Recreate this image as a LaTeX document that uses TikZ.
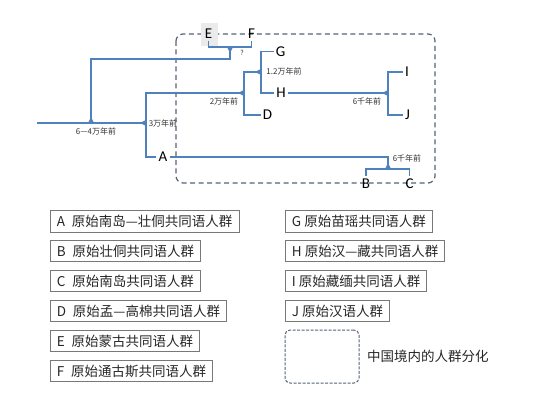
\documentclass[tikz,border=0pt]{standalone}
\usepackage{fontspec}
\setmainfont{Noto Sans CJK SC}
\newfontfamily\letterfont{Carlito}
\usetikzlibrary{positioning}
\definecolor{branch}{RGB}{79,129,189}
\definecolor{zonecol}{RGB}{84,98,122}
\definecolor{boxline}{RGB}{120,120,120}
\tikzset{
  tree/.style={draw=branch, line width=1.4pt},
  leaf/.style={inner sep=2pt, font=\letterfont\fontsize{15}{15}\selectfont},
  age/.style={inner sep=0pt, text=black!80, font=\fontsize{8}{9}\selectfont},
  legend/.style={draw=boxline, line width=0.9pt, anchor=west, inner xsep=6.5pt, inner ysep=4.5pt,
    text height=11.5pt, text depth=1pt, text=black!85, font=\fontsize{13.5}{15}\selectfont},
  zone/.style={draw=zonecol, line width=1.2pt, dash pattern=on 5pt off 3.5pt, rounded corners=7pt},
  keybox/.style={draw=zonecol, line width=1pt, dash pattern=on 3pt off 1.5pt, rounded corners=5pt,
    minimum width=74pt, minimum height=53pt},
  tri left/.pic={\fill[branch] (0,-3) -- (0,3) -- (-6,0) -- cycle;},
  tri up/.pic={\fill[branch] (-3,0) -- (3,0) -- (0,-6) -- cycle;},
  tri down/.pic={\fill[branch] (-3,0) -- (3,0) -- (0,6) -- cycle;}
}
\begin{document}
\begin{tikzpicture}[x=1pt,y=-1pt]
\useasboundingbox (0,0) rectangle (550,412);
\draw[zone] (176,34) rectangle (435,183);
\fill[black!8] (201,23) rectangle (218,46);
\coordinate (r0) at (37,123);
\coordinate (s64) at (91,123);
\coordinate (s3) at (146,123);
\coordinate (k1) at (230,59);
\coordinate (ef) at (230,47);
\coordinate (j2) at (244,93);
\coordinate (j12) at (261,72);
\coordinate (jIJ) at (388,93);
\coordinate (jBC) at (388,169);
\node[leaf] (E) at (208.5,33.5) {E};
\node[leaf] (F) at (251.5,33.5) {F};
\node[leaf] (G) at (280.5,51.5) {G};
\node[leaf] (H) at (281,93) {H};
\node[leaf] (D) at (267.5,115) {D};
\node[leaf] (I) at (407,72) {I};
\node[leaf] (J) at (407.5,115) {J};
\node[leaf] (A) at (163,157) {A};
\node[leaf] (B) at (366,183.5) {B};
\node[leaf] (C) at (409.5,183.5) {C};
\draw[tree] (r0) -- (s3);
\draw[tree] (s64) |- (k1) -- (ef);
\draw[tree] (E) |- (ef) -| (F);
\draw[tree] (A) -| (s3) |- (j2);
\draw[tree] (D) -| (j2) |- (j12);
\draw[tree] (H) -| (j12) |- (G);
\draw[tree] (H) -- (jIJ);
\draw[tree] (J) -| (jIJ) |- (I);
\draw[tree] (A) -| (jBC);
\draw[tree] (B) |- (jBC) -| (C);
\pic at (s64) {tri up};
\pic at (s3) {tri left};
\pic at (ef) {tri down};
\pic at (j2) {tri left};
\pic at (j12) {tri left};
\pic at (jIJ) {tri left};
\pic at (jBC) {tri up};
\node[age] (t64) at (96,131) {6—4万年前};
\node[age] (t3) at (163,123) {3万年前};
\node[age] (t2) at (224,101) {2万年前};
\node[age] (t12) at (284,71) {1.2万年前};
\node[age, font=\fontsize{7}{8}\selectfont] (tq) at (242,53) {?};
\node[age] (t6a) at (367,101) {6千年前};
\node[age] (t6b) at (407,158) {6千年前};
\node[legend] (la) at (50,221.5) {A\enspace 原始南岛—壮侗共同语人群};
\node[legend] (lb) at (50,251) {B\enspace 原始壮侗共同语人群};
\node[legend] (lc) at (50,281) {C\enspace 原始南岛共同语人群};
\node[legend] (ld) at (50,311) {D\enspace 原始孟—高棉共同语人群};
\node[legend] (le) at (50,341) {E\enspace 原始蒙古共同语人群};
\node[legend] (lf) at (50,371) {F\enspace 原始通古斯共同语人群};
\node[legend] (lg) at (285,221.5) {G 原始苗瑶共同语人群};
\node[legend] (lh) at (285,251) {H 原始汉—藏共同语人群};
\node[legend] (li) at (285,281) {I 原始藏缅共同语人群};
\node[legend] (lj) at (285,311) {J 原始汉语人群};
\node[keybox] (key) at (322,356.5) {};
\node[right=4pt of key, text=black!85, font=\fontsize{13.5}{15}\selectfont] (keytext) {中国境内的人群分化};
\end{tikzpicture}
\end{document}
